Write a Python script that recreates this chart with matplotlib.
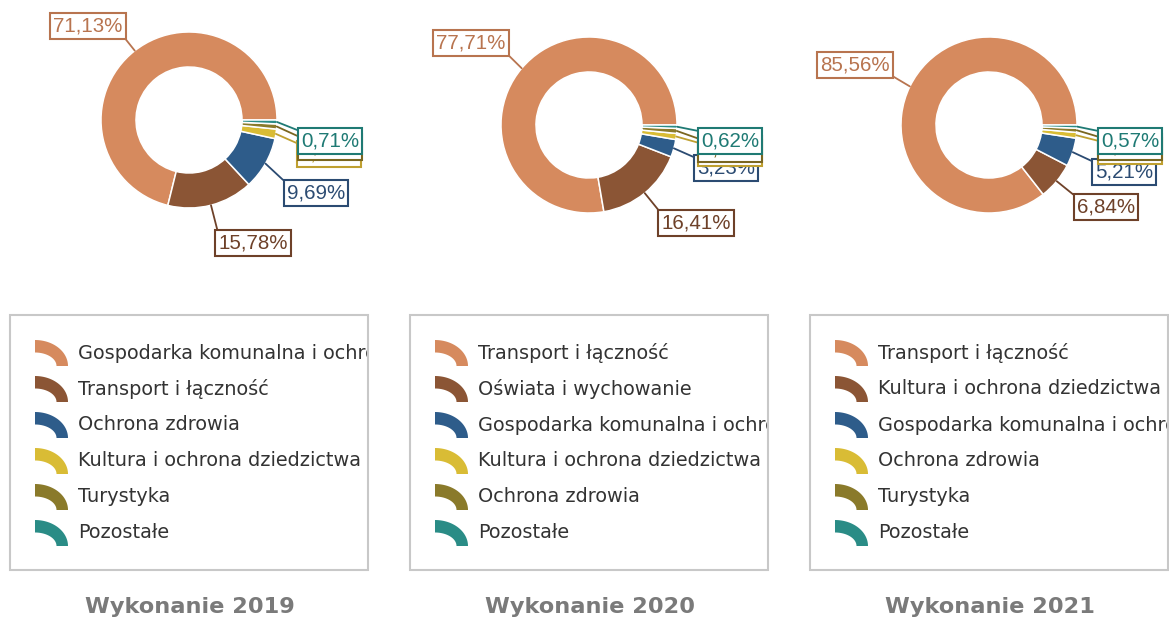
import matplotlib
matplotlib.use("Agg")
import matplotlib.pyplot as plt
import numpy as np
from matplotlib.patches import Rectangle, Polygon
from matplotlib.transforms import Bbox, TransformedBbox

W, H = 1169, 621

years = ["2019", "2020", "2021"]

cats_2019 = ["Gospodarka komunalna i ochrona środowiska", "Transport i łączność",
             "Ochrona zdrowia", "Kultura i ochrona dziedzictwa narodowego",
             "Turystyka", "Pozostałe"]
cats_2020 = ["Transport i łączność", "Oświata i wychowanie",
             "Gospodarka komunalna i ochrona środowiska",
             "Kultura i ochrona dziedzictwa narodowego", "Ochrona zdrowia", "Pozostałe"]
cats_2021 = ["Transport i łączność", "Kultura i ochrona dziedzictwa narodowego",
             "Gospodarka komunalna i ochrona środowiska", "Ochrona zdrowia",
             "Turystyka", "Pozostałe"]

vals_2019 = [71.13, 15.78, 9.69, 1.75, 0.94, 0.71]
vals_2020 = [77.71, 16.41, 3.23, 1.12, 0.91, 0.62]
vals_2021 = [85.56, 6.84, 5.21, 1.05, 0.77, 0.57]

colors = ["#D68A5E", "#8B5535", "#2E5C8A", "#D9BC35", "#8A7A2A", "#2A8C86"]
label_colors = ["#B8744F", "#6E4129", "#2B4B72", "#BFA030", "#7A6620", "#1F7A74"]

# layout in pixels (y grows downward)
centers = [(189, 120), (589, 125), (989, 125)]
R_OUT, RING = 88, 35
label_pos = [
    [(88, 26), (253, 243), (316, 193), (329, 154), (330, 147), (330, 141)],
    [(471, 43), (696, 223), (726, 168), (730, 153), (730, 149), (730, 141)],
    [(855, 65), (1106, 207), (1124, 172), (1130, 151), (1130, 147), (1130, 141)],
]
legend_x = [10, 410, 810]

fig = plt.figure(figsize=(W / 100, H / 100), dpi=100)
ax = fig.add_axes([0, 0, 1, 1])

panels = [(cats_2019, vals_2019), (cats_2020, vals_2020), (cats_2021, vals_2021)]

for i, (cats, vals) in enumerate(panels):
    cx, cy = centers[i]
    wedges, _ = ax.pie(vals, colors=colors, startangle=0, counterclock=False,
                       radius=R_OUT, center=(cx, cy),
                       wedgeprops=dict(width=RING, edgecolor="white", linewidth=1.1))

    # percentage labels with leader lines
    for j, (w, v) in enumerate(zip(wedges, vals)):
        mid = np.deg2rad((w.theta1 + w.theta2) / 2)
        px = w.center[0] + w.r * np.cos(mid)
        py = w.center[1] + w.r * np.sin(mid)
        lx, ly = label_pos[i][j]
        rx = 1.0 if px > lx + 38 else (0.0 if px < lx - 38 else 0.5)
        ry = 0.0 if py > ly + 14 else (1.0 if py < ly - 14 else 0.5)
        txt = f"{v:.2f}%".replace(".", ",")
        ax.annotate(txt, xy=(px, py), xytext=(lx, ly),
                    ha="center", va="center", fontsize=14.8,
                    family="Liberation Sans", color=label_colors[j],
                    bbox=dict(boxstyle="square,pad=0.15", fc="white",
                              ec=label_colors[j], lw=1.5),
                    arrowprops=dict(arrowstyle="-", color=label_colors[j], lw=1.3,
                                    shrinkA=0, shrinkB=0, relpos=(rx, ry)),
                    zorder=3 + j)

    # legend box
    x0 = legend_x[i]
    frame = Rectangle((x0, 315), 358, 255, fill=False, ec="#C8C8C8", lw=1.5, zorder=2)
    ax.add_patch(frame)
    clip = TransformedBbox(Bbox([[x0 + 1, 315], [x0 + 357, 570]]), ax.transData)
    t = np.linspace(0, np.pi / 2, 30)
    for j, cat in enumerate(cats):
        yc = 353 + j * 36
        ix, iy = x0 + 25, yc + 13
        outer = np.column_stack([ix + 33 * np.cos(t), iy - 26 * np.sin(t)])
        inner = np.column_stack([ix + 21.5 * np.cos(t[::-1]), iy - 13.5 * np.sin(t[::-1])])
        ax.add_patch(Polygon(np.vstack([outer, inner]), closed=True,
                             fc=colors[j], ec="none", zorder=2))
        tx = ax.text(x0 + 68, yc, cat, fontsize=13.9, family="DejaVu Sans",
                     color="#333333", va="center", ha="left", zorder=2)
        tx.set_clip_box(clip)
        tx.set_clip_on(True)

    ax.text(x0 + 180, 607, f"Wykonanie {years[i]}", fontsize=16.2,
            family="DejaVu Sans", weight="bold", color="#7A7A7A",
            ha="center", va="center")

ax.set_xlim(0, W)
ax.set_ylim(H, 0)
ax.set_aspect("equal")
ax.axis("off")

fig.savefig("out.png", dpi=100, facecolor="white")
